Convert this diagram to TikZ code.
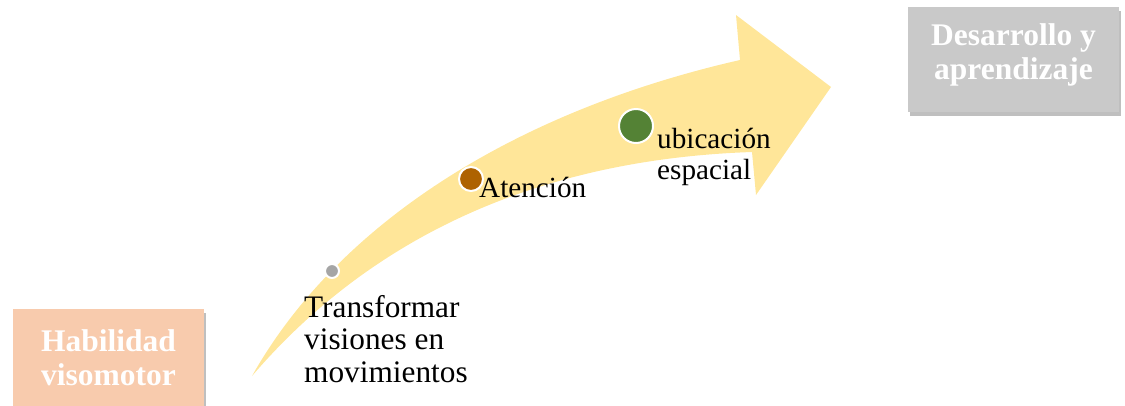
\documentclass[tikz,border=0pt]{standalone}
\usepackage{fontspec}
\setmainfont{Liberation Serif}
\usetikzlibrary{shadows}
\definecolor{arrowY}{HTML}{FFE699}
\definecolor{peach}{HTML}{F8CBAD}
\definecolor{greyBox}{HTML}{C9C9C9}
\definecolor{dotGrey}{HTML}{A5A5A5}
\definecolor{dotOrange}{HTML}{AE6200}
\definecolor{dotGreen}{HTML}{548235}
\begin{document}
\begin{tikzpicture}[x=1pt,y=-1pt,
  box/.style={rectangle, inner sep=0pt,
    drop shadow={shadow xshift=2pt, shadow yshift=-4pt, fill=black, opacity=0.25}},
  boxtext/.style={inner sep=0pt, text=white, align=center,
    font=\bfseries\fontsize{31.5}{34}\selectfont},
  steplabel/.style={inner sep=0pt, anchor=base west, align=left,
    font=\fontsize{29.2}{31}\selectfont},
  biglabel/.style={steplabel, font=\fontsize{31.3}{32.5}\selectfont},
  dot/.style={circle, draw=white, line width=2pt, inner sep=0pt}]
\useasboundingbox (0,0) rectangle (1125,405);
\clip (0,0) rectangle (1125,405);
% curved arrow
\fill[arrowY] (252,376) .. controls (340,220) and (520,110) .. (740,60)
  -- (736,15) -- (831,87) -- (756,195) -- (752,152)
  .. controls (520,160) and (360,250) .. (252,376) -- cycle;
% boxes
\node[box, fill=peach, minimum width=191pt, minimum height=100pt,
  label={[boxtext, yshift=1pt]center:Habilidad\\visomotor}] (hab) at (108.5,359) {};
\node[box, fill=greyBox, minimum width=211pt, minimum height=105pt,
  label={[boxtext, yshift=5pt]center:Desarrollo y\\aprendizaje}] (des) at (1013.5,59.5) {};
% dots
\node[dot, fill=dotGrey, minimum size=14pt] (d1) at (332,271) {};
\node[dot, fill=dotOrange, minimum size=24pt] (d2) at (471,179) {};
\node[dot, fill=dotGreen, minimum size=34pt] (d3) at (636,126) {};
% labels
\node[biglabel] (t1) at (304,382) {Transformar\\visiones en\\movimientos};
\node[steplabel] (t2) at (479,197) {Atención};
\node[steplabel] (t3) at (657,179) {ubicación\\espacial};
\end{tikzpicture}
\end{document}
